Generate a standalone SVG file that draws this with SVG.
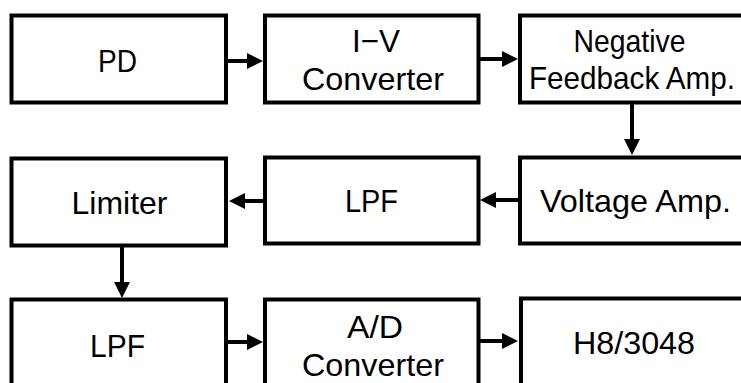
<svg xmlns="http://www.w3.org/2000/svg" width="741" height="383" viewBox="0 0 741 383">
  <style>
    .box { fill: #ffffff; stroke: #000000; stroke-width: 4; }
    .lbl { font-family: "Liberation Sans", Arial, sans-serif; font-size: 32px; fill: #000000; text-anchor: middle; }
    .wire { stroke: #000000; stroke-width: 4; fill: none; marker-end: url(#head); }
  </style>
  <defs>
    <marker id="head" markerUnits="userSpaceOnUse" markerWidth="18" markerHeight="18" refX="5" refY="8" orient="auto">
      <path d="M0,0 L16,8 L0,16 z" fill="#000000"/>
    </marker>
  </defs>
  <rect width="741" height="383" fill="#ffffff"/>

  <!-- signal chain, top row -->
  <g id="pd">
    <rect class="box" x="11.5" y="15.5" width="214.5" height="87"/>
    <text class="lbl" x="117.5" y="72" textLength="39" lengthAdjust="spacingAndGlyphs">PD</text>
  </g>
  <g id="iv-converter">
    <rect class="box" x="265" y="15.5" width="213.5" height="87"/>
    <text class="lbl" x="376" y="52" textLength="48" lengthAdjust="spacingAndGlyphs">I−V</text>
    <text class="lbl" x="373" y="90" textLength="142" lengthAdjust="spacingAndGlyphs">Converter</text>
  </g>
  <g id="feedback-amp">
    <rect class="box" x="520" y="15.5" width="260" height="87"/>
    <text class="lbl" x="629.5" y="52" textLength="112" lengthAdjust="spacingAndGlyphs">Negative</text>
    <text class="lbl" x="632" y="89" font-size="30" textLength="206" lengthAdjust="spacingAndGlyphs">Feedback Amp.</text>
  </g>

  <!-- middle row -->
  <g id="limiter">
    <rect class="box" x="11.5" y="158.5" width="214.5" height="87"/>
    <text class="lbl" x="119.5" y="214" textLength="96" lengthAdjust="spacingAndGlyphs">Limiter</text>
  </g>
  <g id="lpf-1">
    <rect class="box" x="265" y="157.5" width="213.5" height="86"/>
    <text class="lbl" x="371.5" y="212" textLength="53" lengthAdjust="spacingAndGlyphs">LPF</text>
  </g>
  <g id="voltage-amp">
    <rect class="box" x="520" y="157.5" width="260" height="86"/>
    <text class="lbl" x="635.5" y="212" textLength="191" lengthAdjust="spacingAndGlyphs">Voltage Amp.</text>
  </g>

  <!-- bottom row -->
  <g id="lpf-2">
    <rect class="box" x="11.5" y="299.5" width="214.5" height="110"/>
    <text class="lbl" x="117.5" y="357" textLength="55" lengthAdjust="spacingAndGlyphs">LPF</text>
  </g>
  <g id="ad-converter">
    <rect class="box" x="265" y="299.5" width="213.5" height="110"/>
    <text class="lbl" x="375" y="338" textLength="56" lengthAdjust="spacingAndGlyphs">A/D</text>
    <text class="lbl" x="373" y="376" textLength="142" lengthAdjust="spacingAndGlyphs">Converter</text>
  </g>
  <g id="h8-3048">
    <rect class="box" x="521" y="298.5" width="260" height="110"/>
    <text class="lbl" x="634" y="354" textLength="122" lengthAdjust="spacingAndGlyphs">H8/3048</text>
  </g>

  <!-- connectors -->
  <g id="connectors">
    <line class="wire" x1="228" y1="61" x2="252" y2="61"/>
    <line class="wire" x1="480" y1="59" x2="507" y2="59"/>
    <line class="wire" x1="632" y1="104" x2="632" y2="144"/>
    <line class="wire" x1="518" y1="200" x2="491" y2="200"/>
    <line class="wire" x1="263" y1="201" x2="240" y2="201"/>
    <line class="wire" x1="122" y1="247" x2="122" y2="287"/>
    <line class="wire" x1="228" y1="342" x2="252" y2="342"/>
    <line class="wire" x1="480" y1="341" x2="507" y2="341"/>
  </g>
</svg>
